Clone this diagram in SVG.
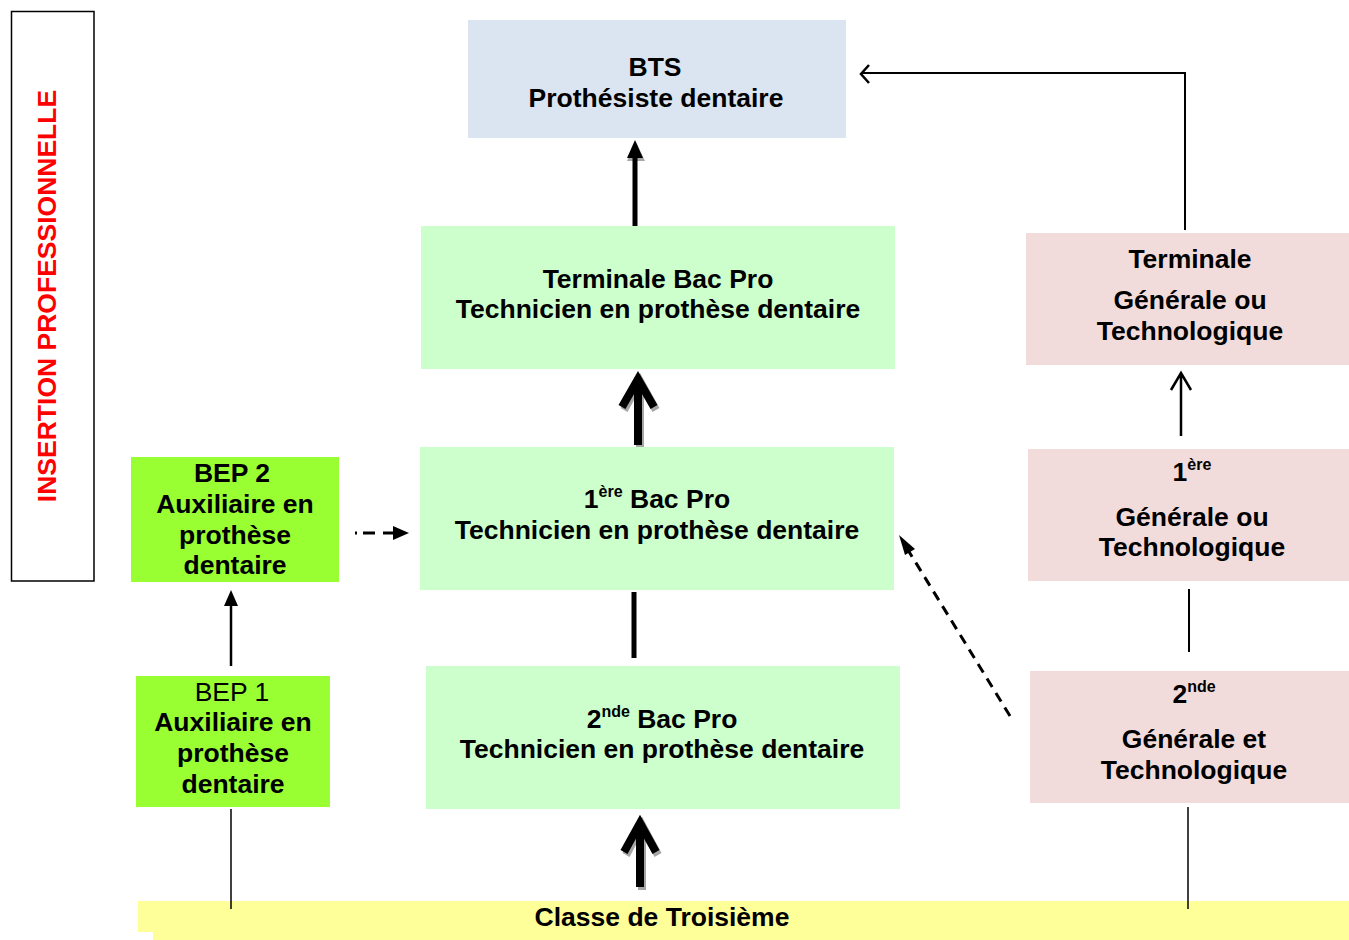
<svg xmlns="http://www.w3.org/2000/svg" width="1349" height="940" viewBox="0 0 1349 940">
<defs>
<style>
text{font-family:"Liberation Sans",Arial,sans-serif;font-size:26.5px;font-weight:bold;fill:#000;text-anchor:middle}
.sup{font-size:16px}
.reg{font-weight:normal}
.blue{fill:#dbe5f1}
.green{fill:#ccffcc}
.lime{fill:#99ff33}
.pink{fill:#f2dcdb}
.yellow{fill:#ffff99}
.ln{stroke:#000;fill:none}
.sh{stroke:#a6a6a6;fill:none}
</style>
<marker id="tri" viewBox="0 0 10 10" refX="9" refY="5" markerWidth="5" markerHeight="5" markerUnits="strokeWidth" orient="auto">
<path d="M0,0 L10,5 L0,10 Z" fill="#000"/>
</marker>
</defs>
<rect width="1349" height="940" fill="#fff"/>

<g id="insertion">
<rect x="11.5" y="11.5" width="82.5" height="569.5" fill="#fff" stroke="#000" stroke-width="1.5"/>
<text transform="translate(56,296) rotate(-90)" style="fill:#ff0000">INSERTION PROFESSIONNELLE</text>
</g>

<g id="bts">
<rect class="blue" x="468" y="20" width="378" height="118"/>
<text x="655" y="76">BTS</text>
<text x="656" y="107">Prothésiste dentaire</text>
</g>

<g id="terminale-bacpro">
<rect class="green" x="421" y="226" width="474" height="143"/>
<text x="658" y="288">Terminale Bac Pro</text>
<text x="658" y="318">Technicien en prothèse dentaire</text>
</g>

<g id="premiere-bacpro">
<rect class="green" x="420" y="447" width="474" height="143"/>
<text x="657" y="508">1<tspan class="sup" dy="-11">ère</tspan><tspan dy="11"> Bac Pro</tspan></text>
<text x="657" y="539">Technicien en prothèse dentaire</text>
</g>

<g id="seconde-bacpro">
<rect class="green" x="426" y="666" width="474" height="143"/>
<text x="662" y="728">2<tspan class="sup" dy="-11">nde</tspan><tspan dy="11"> Bac Pro</tspan></text>
<text x="662" y="758">Technicien en prothèse dentaire</text>
</g>

<g id="bep2">
<rect class="lime" x="131" y="457" width="208" height="125"/>
<text x="232" y="482">BEP 2</text>
<text x="235" y="513">Auxiliaire en</text>
<text x="235" y="544">prothèse</text>
<text x="235" y="574">dentaire</text>
</g>

<g id="bep1">
<rect class="lime" x="136" y="676" width="194" height="131"/>
<text class="reg" x="232" y="701">BEP 1</text>
<text x="233" y="731">Auxiliaire en</text>
<text x="233" y="762">prothèse</text>
<text x="233" y="793">dentaire</text>
</g>

<g id="terminale-generale">
<rect class="pink" x="1026" y="233" width="323" height="132"/>
<text x="1190" y="268">Terminale</text>
<text x="1190" y="309">Générale ou</text>
<text x="1190" y="340">Technologique</text>
</g>

<g id="premiere-generale">
<rect class="pink" x="1028" y="449" width="321" height="132"/>
<text x="1192" y="481">1<tspan class="sup" dy="-11">ère</tspan></text>
<text x="1192" y="526">Générale ou</text>
<text x="1192" y="556">Technologique</text>
</g>

<g id="seconde-generale">
<rect class="pink" x="1030" y="671" width="319" height="132"/>
<text x="1194" y="703">2<tspan class="sup" dy="-11">nde</tspan></text>
<text x="1194" y="748">Générale et</text>
<text x="1194" y="779">Technologique</text>
</g>

<g id="troisieme">
<rect class="yellow" x="138" y="901" width="1211" height="31"/>
<rect class="yellow" x="153" y="931" width="1196" height="9"/>
<text x="662" y="926">Classe de Troisième</text>
</g>

<g id="connectors">
<!-- Terminale Bac Pro -> BTS -->
<path d="M627,161 L636,142 L645,161 Z" fill="#a6a6a6"/>
<line class="ln" x1="635" y1="226" x2="635" y2="155" stroke-width="5"/>
<path d="M627,158 L635,140 L643,158 Z" fill="#000"/>
<!-- 1ere -> Terminale Bac Pro -->
<path class="sh" d="M640,447 V381 M624,410 L640,381 L656,410" stroke-width="8"/>
<path class="ln" d="M638,445 V379 M622,407 L638,379 L654,407" stroke-width="8"/>
<!-- 2nde -> 1ere Bac Pro -->
<line class="ln" x1="634" y1="592" x2="634" y2="658" stroke-width="5"/>
<!-- Troisieme -> 2nde Bac Pro -->
<path class="sh" d="M642,890 V825 M626,855 L642,825 L658,855" stroke-width="8"/>
<path class="ln" d="M640,887 V823 M624,852 L640,823 L656,852" stroke-width="8"/>
<!-- BEP1 -> BEP2 -->
<line class="ln" x1="231" y1="666" x2="231" y2="600" stroke-width="2.5"/>
<path d="M224,606 L231,590 L238,606 Z" fill="#000"/>
<line class="ln" x1="231" y1="809" x2="231" y2="909" stroke-width="1.5"/>
<!-- BEP2 -> 1ere Bac Pro (dashed) -->
<path class="ln" d="M355,533 H395" stroke-width="3" stroke-dasharray="2,6,12,8,14,0"/>
<path d="M393,526 L409,533 L393,540 Z" fill="#000"/>
<!-- 2nde Generale -> 1ere Bac Pro (dashed) -->
<line class="ln" x1="1010" y1="716" x2="908" y2="550" stroke-width="3" stroke-dasharray="10,7"/>
<path d="M899,535 L915,549 L905,555 Z" fill="#000"/>
<!-- Terminale Generale -> BTS -->
<path class="ln" d="M1185,230 V73 H862" stroke-width="2"/>
<path class="ln" d="M869,65 L861,74 L869,83" stroke-width="2.5"/>
<!-- 1ere Generale -> Terminale Generale -->
<path class="ln" d="M1181,436 V374 M1171,390 L1181,373 L1191,390" stroke-width="2.5"/>
<!-- 2nde Generale -> 1ere Generale -->
<line class="ln" x1="1189" y1="589" x2="1189" y2="652" stroke-width="2"/>
<line class="ln" x1="1188" y1="807" x2="1188" y2="909" stroke-width="1.5"/>
</g>
</svg>
